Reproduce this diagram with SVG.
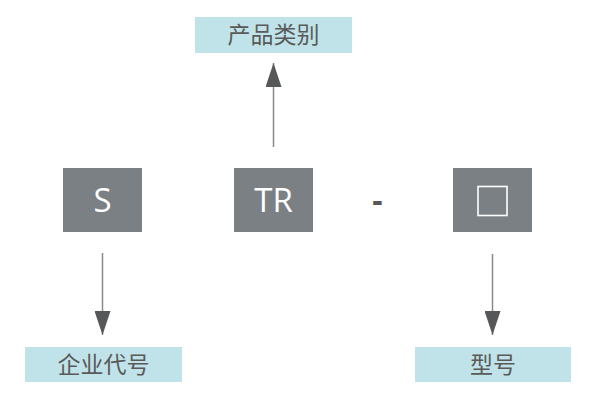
<svg xmlns="http://www.w3.org/2000/svg" width="600" height="402" viewBox="0 0 600 402">
<defs>
<marker id="ah" viewBox="0 0 24 16" refX="24" refY="8" markerWidth="24" markerHeight="16" markerUnits="userSpaceOnUse" orient="auto">
<path d="M0,0 L24,8 L0,16 Z" fill="#555759"/>
</marker>
<style>
.box{fill:#7b8084}
.lab{fill:#bfe3e8}
.bt{font-family:"Open Sans","Liberation Sans",sans-serif;font-size:33px;fill:#ffffff;text-anchor:middle}
.lt{font-family:"Noto Sans CJK SC",sans-serif;font-size:23px;fill:#5a5a5a;text-anchor:middle}
.conn{stroke:#8a8a8a;stroke-width:1.5;fill:none}
</style>
</defs>
<rect width="600" height="402" fill="#ffffff"/>
<g id="label-category">
<rect class="lab" x="195" y="17" width="157" height="36"/>
<text class="lt" x="273.5" y="43">产品类别</text>
</g>
<g id="node-S">
<rect class="box" x="63" y="168" width="79" height="64"/>
<text class="bt" x="102.5" y="212">S</text>
</g>
<g id="node-TR">
<rect class="box" x="234" y="168" width="79" height="64"/>
<text class="bt" x="273.5" y="212">TR</text>
</g>
<g id="dash">
<text x="377.5" y="212" font-family="Open Sans, Liberation Sans, sans-serif" font-size="32" font-weight="bold" fill="#555759" text-anchor="middle">-</text>
</g>
<g id="node-box">
<rect class="box" x="453" y="168" width="79" height="64"/>
<rect x="478" y="186.5" width="29" height="29" fill="none" stroke="#ffffff" stroke-width="1.6"/>
</g>
<g id="label-company">
<rect class="lab" x="25" y="347" width="157" height="35"/>
<text class="lt" x="103.5" y="372.5">企业代号</text>
</g>
<g id="label-model">
<rect class="lab" x="415" y="347" width="156" height="35"/>
<text class="lt" x="493" y="372.5">型号</text>
</g>
<g id="connectors">
<line class="conn" x1="273.5" y1="147" x2="273.5" y2="63" marker-end="url(#ah)"/>
<line class="conn" x1="102.5" y1="253" x2="102.5" y2="335" marker-end="url(#ah)"/>
<line class="conn" x1="492.5" y1="254" x2="492.5" y2="335" marker-end="url(#ah)"/>
</g>
</svg>
